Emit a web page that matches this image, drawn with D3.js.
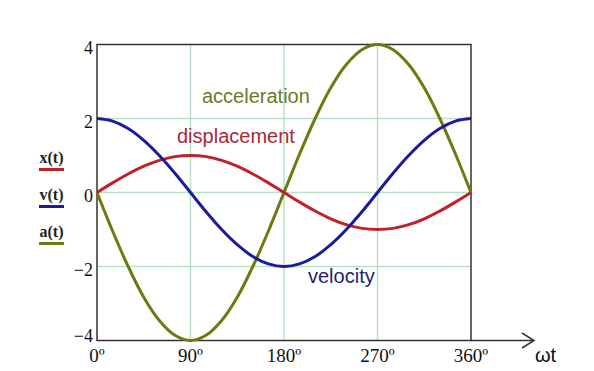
<!DOCTYPE html>
<html>
<head>
<meta charset="utf-8">
<script src="https://cdn.jsdelivr.net/npm/d3@7"></script>
<style>
  body { margin: 0; background: #fff; }
  svg { display: block; }
</style>
</head>
<body>
<div id="chart"></div>
<script>
// values, every 15 degrees
var angles = [0,15,30,45,60,75,90,105,120,135,150,165,180,195,210,225,240,255,270,285,300,315,330,345,360];
var displacement = [0,0.26,0.5,0.71,0.87,0.97,1,0.97,0.87,0.71,0.5,0.26,0,-0.26,-0.5,-0.71,-0.87,-0.97,-1,-0.97,-0.87,-0.71,-0.5,-0.26,0];
var velocity = [2,1.93,1.73,1.41,1,0.52,0,-0.52,-1,-1.41,-1.73,-1.93,-2,-1.93,-1.73,-1.41,-1,-0.52,0,0.52,1,1.41,1.73,1.93,2];
var acceleration = [0,-1.04,-2,-2.83,-3.46,-3.86,-4,-3.86,-3.46,-2.83,-2,-1.04,0,1.04,2,2.83,3.46,3.86,4,3.86,3.46,2.83,2,1.04,0];

var xTicks = [0, 90, 180, 270, 360];
var xTickLabels = ["0º", "90º", "180º", "270º", "360º"];
var yTicks = [4, 2, 0, -2, -4];
var yTickLabels = ["4", "2", "0", "\u22122", "\u22124"];
var legendLabels = ["x(t)", "v(t)", "a(t)"];
var curveLabels = ["displacement", "velocity", "acceleration"];

var width = 594, height = 371;
var colors = ["#c0222b", "#1b1b9c", "#6e7a10"];
var labelColors = ["#a8283a", "#23236e", "#6b7a2a"];

var svg = d3.select("#chart").append("svg")
    .attr("width", width)
    .attr("height", height);

var x = d3.scaleLinear().domain([0, 360]).range([97, 471]);
var y = d3.scaleLinear().domain([-4, 4]).range([340.5, 44.5]);

// grid lines (light green)
svg.append("g").selectAll("line")
    .data(xTicks.slice(1, -1))
    .enter().append("line")
    .attr("x1", d => x(d)).attr("x2", d => x(d))
    .attr("y1", y(4)).attr("y2", y(-4))
    .attr("stroke", "#b8e2c6").attr("stroke-width", 1.5);

svg.append("g").selectAll("line")
    .data(yTicks.slice(1, -1))
    .enter().append("line")
    .attr("x1", x(0)).attr("x2", x(360))
    .attr("y1", d => y(d)).attr("y2", d => y(d))
    .attr("stroke", "#b8e2c6").attr("stroke-width", 1.5);

// frame
svg.append("rect")
    .attr("x", x(0)).attr("y", y(4))
    .attr("width", x(360) - x(0)).attr("height", y(-4) - y(4))
    .attr("fill", "none").attr("stroke", "#333").attr("stroke-width", 1.5);

// arrow on time axis
svg.append("line")
    .attr("x1", x(360)).attr("x2", 534)
    .attr("y1", y(-4)).attr("y2", y(-4))
    .attr("stroke", "#333").attr("stroke-width", 1.5);
svg.append("path")
    .attr("d", "M522," + (y(-4) - 7.5) + "L534," + y(-4) + "L522," + (y(-4) + 7.5))
    .attr("fill", "none").attr("stroke", "#333").attr("stroke-width", 1.5);

svg.append("text")
    .attr("x", 535).attr("y", 362)
    .attr("font-family", "Liberation Sans, Arial, sans-serif")
    .attr("font-size", 20).attr("fill", "#111")
    .text("ωt");

// tick labels
svg.append("g").selectAll("text")
    .data(xTicks)
    .enter().append("text")
    .attr("x", d => x(d))
    .attr("y", 362)
    .attr("text-anchor", "middle")
    .attr("font-family", "Liberation Serif, Times New Roman, serif")
    .attr("font-size", 19).attr("fill", "#111")
    .text((d, i) => xTickLabels[i]);

svg.append("g").selectAll("text")
    .data(yTicks)
    .enter().append("text")
    .attr("x", 93)
    .attr("y", d => y(d) + (d === -4 ? 1 : 9))
    .attr("text-anchor", "end")
    .attr("font-family", "Liberation Serif, Times New Roman, serif")
    .attr("font-size", 18).attr("fill", "#111")
    .text((d, i) => yTickLabels[i]);

// curves
var series = [displacement, velocity, acceleration];
var line = d3.line()
    .x((d, i) => x(angles[i]))
    .y(d => y(d))
    .curve(d3.curveCatmullRom);

svg.append("g").selectAll("path")
    .data([2, 0, 1])
    .enter().append("path")
    .attr("d", k => line(series[k]))
    .attr("fill", "none")
    .attr("stroke", k => colors[k])
    .attr("stroke-width", 3)
    .attr("stroke-linejoin", "round");

// legend on the left
var legend = svg.append("g").selectAll("g")
    .data(legendLabels)
    .enter().append("g")
    .attr("transform", (d, i) => "translate(39," + (163 + i * 37) + ")");

legend.append("text")
    .attr("x", 12.5).attr("y", 0)
    .attr("text-anchor", "middle")
    .attr("font-family", "Liberation Serif, Times New Roman, serif")
    .attr("font-size", 16).attr("font-weight", "bold").attr("fill", "#222")
    .text(d => d);

legend.append("line")
    .attr("x1", 0).attr("x2", 25)
    .attr("y1", 6.5).attr("y2", 6.5)
    .attr("stroke", (d, i) => colors[i])
    .attr("stroke-width", 3);

// curve names
var labelPos = [[177, 143], [308, 283], [202, 103]];
svg.append("g").selectAll("text")
    .data(curveLabels)
    .enter().append("text")
    .attr("x", (d, i) => labelPos[i][0])
    .attr("y", (d, i) => labelPos[i][1])
    .attr("font-family", "Liberation Sans, Arial, sans-serif")
    .attr("font-size", 20)
    .attr("fill", (d, i) => labelColors[i])
    .text(d => d);
</script>
</body>
</html>
